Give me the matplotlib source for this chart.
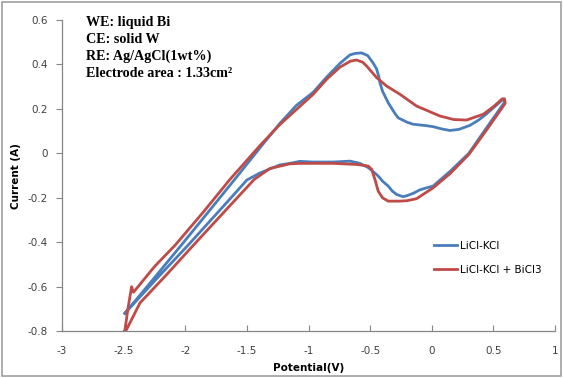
import matplotlib
matplotlib.use("Agg")
import matplotlib.pyplot as plt
from matplotlib.patches import Rectangle

# LiCl-KCl (blue): anodic sweep then cathodic sweep
blue_x = [-2.49, -2.25, -2.02, -1.80, -1.60, -1.394, -1.232, -1.1, -0.962, -0.85,
          -0.745, -0.664, -0.62, -0.569, -0.52, -0.48, -0.448, -0.43, -0.421, -0.40,
          -0.354, -0.30, -0.273, -0.2, -0.151, -0.05, 0.011, 0.08, 0.147, 0.22,
          0.309, 0.38, 0.444, 0.52, 0.57, 0.585,
          0.59, 0.45, 0.3, 0.15, 0.011, -0.042, -0.1, -0.151, -0.2, -0.232,
          -0.26, -0.285, -0.32, -0.354, -0.40, -0.435, -0.48, -0.516, -0.583, -0.664,
          -0.8, -0.962, -1.07, -1.15, -1.232, -1.313, -1.40, -1.50, -1.637, -1.80,
          -1.98, -2.25, -2.49]
blue_y = [-0.72, -0.56, -0.405, -0.255, -0.118, 0.025, 0.135, 0.215, 0.275, 0.345,
          0.405, 0.443, 0.45, 0.452, 0.44, 0.41, 0.38, 0.345, 0.318, 0.28,
          0.228, 0.18, 0.16, 0.14, 0.131, 0.125, 0.12, 0.11, 0.103, 0.108,
          0.126, 0.15, 0.178, 0.215, 0.24, 0.245,
          0.23, 0.12, 0.0, -0.08, -0.147, -0.155, -0.165, -0.18, -0.19, -0.195,
          -0.19, -0.185, -0.17, -0.147, -0.125, -0.102, -0.08, -0.064, -0.045, -0.035,
          -0.039, -0.039, -0.036, -0.045, -0.052, -0.07, -0.09, -0.12, -0.205, -0.305,
          -0.415, -0.575, -0.72]

# LiCl-KCl + BiCl3 (red)
red_x = [-2.49, -2.465, -2.435, -2.42, -2.39, -2.25, -2.08, -1.85, -1.637, -1.394,
         -1.232, -0.964, -0.85, -0.745, -0.66, -0.61, -0.56, -0.529, -0.448, -0.367,
         -0.259, -0.124, 0.066, 0.18, 0.282, 0.417, 0.5, 0.57, 0.59,
         0.595, 0.45, 0.3, 0.15, 0.011, -0.124, -0.2, -0.259, -0.354, -0.40,
         -0.435, -0.46, -0.488, -0.516, -0.61, -0.8, -1.07, -1.15, -1.313, -1.44,
         -1.637, -1.80, -1.94, -2.15, -2.367, -2.476, -2.49]
red_y = [-0.80, -0.70, -0.60, -0.625, -0.605, -0.51, -0.412, -0.262, -0.117, 0.035,
         0.13, 0.265, 0.335, 0.388, 0.415, 0.42, 0.41, 0.393, 0.341, 0.303,
         0.266, 0.213, 0.168, 0.152, 0.15, 0.176, 0.21, 0.245, 0.245,
         0.225, 0.11, -0.005, -0.09, -0.155, -0.204, -0.213, -0.215, -0.215, -0.2,
         -0.17, -0.12, -0.072, -0.057, -0.05, -0.045, -0.045, -0.047, -0.068, -0.117,
         -0.235, -0.333, -0.417, -0.545, -0.673, -0.793, -0.80]

x_ticks = [-3, -2.5, -2, -1.5, -1, -0.5, 0, 0.5, 1]
y_ticks = [0.6, 0.4, 0.2, 0, -0.2, -0.4, -0.6, -0.8]

info_lines = ["WE: liquid Bi", "CE: solid W", "RE: Ag/AgCl(1wt%)",
              "Electrode area : 1.33cm\u00b2"]

fig = plt.figure(figsize=(5.63, 3.78), dpi=100)
ax = fig.add_axes([0.110, 0.124, 0.876, 0.823])

ax.plot(blue_x, blue_y, color="#4a7ebb", lw=2.0, label="LiCl-KCl")
ax.plot(red_x, red_y, color="#be4b48", lw=2.0, label="LiCl-KCl + BiCl3")

ax.set_xlim(-3, 1)
ax.set_ylim(-0.8, 0.6)
ax.set_xticks(x_ticks)
ax.set_yticks(y_ticks)
ax.set_xticklabels([f"{t:g}" for t in x_ticks])
ax.set_yticklabels([f"{t:g}" for t in y_ticks])

for s in ["top", "right"]:
    ax.spines[s].set_visible(False)
for s in ["left", "bottom"]:
    ax.spines[s].set_color("#868686")
    ax.spines[s].set_linewidth(0.9)
ax.tick_params(axis="x", direction="in", length=4, color="#868686",
               labelsize=7.5, labelcolor="#404040", pad=11)
ax.tick_params(axis="y", direction="out", length=4, color="#868686",
               labelsize=7.5, labelcolor="#404040", pad=6)

ax.set_xlabel("Potential(V)", fontsize=7.5, fontweight="bold", labelpad=5)
ax.set_ylabel("Current (A)", fontsize=7.5, fontweight="bold", labelpad=5)

for i, line in enumerate(info_lines):
    fig.text(0.152, 0.940 - i * 0.045, line, family="Liberation Serif",
             fontweight="bold", fontsize=10.2, va="center")

ax.legend(loc="upper left", bbox_to_anchor=(0.735, 0.32), frameon=False,
          fontsize=7.5, handlelength=2.2, handletextpad=0.3, labelspacing=1.35)

# outer frame round the whole picture
fig.patches.append(Rectangle((0.004, 0.004), 0.992, 0.99, transform=fig.transFigure,
                             fill=False, edgecolor="#a0a0a0", lw=1.2))

fig.savefig("out.png", dpi=100)
